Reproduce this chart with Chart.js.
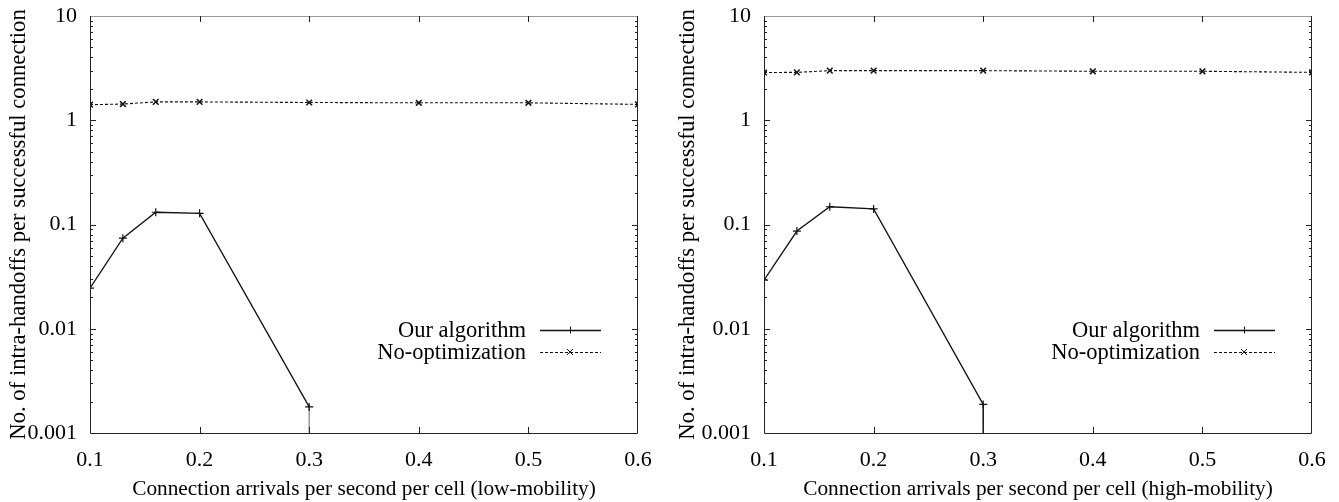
<!DOCTYPE html>
<html>
<head>
<meta charset="utf-8">
<script src="https://cdn.jsdelivr.net/npm/chart.js@4/dist/chart.umd.min.js"></script>
<style>
html,body{margin:0;padding:0;background:#fff;}
#wrap{position:relative;width:1339px;height:502px;overflow:hidden;}
canvas{position:absolute;top:0;}
</style>
</head>
<body>
<div id="wrap">
<canvas id="c1" width="669" height="502" style="left:0px"></canvas>
<canvas id="c2" width="670" height="502" style="left:669px"></canvas>
</div>
<script>
// ---- data ----
const xOur = [0.1, 0.13, 0.16, 0.2, 0.3];
const xNoOpt = [0.1, 0.13, 0.16, 0.2, 0.3, 0.4, 0.5, 0.6];
const ourLow = [0.0245, 0.074, 0.131, 0.128, 0.00178];
const noOptLow = [1.41, 1.43, 1.50, 1.50, 1.48, 1.47, 1.47, 1.42];
const ourHigh = [0.0293, 0.0865, 0.148, 0.141, 0.00188];
const noOptHigh = [2.87, 2.88, 2.99, 2.99, 2.99, 2.95, 2.95, 2.88];
const xTicks = [0.1, 0.2, 0.3, 0.4, 0.5, 0.6];
const yTicks = [0.001, 0.01, 0.1, 1, 10];
const yTickLabels = ['0.001', '0.01', '0.1', '1', '10'];
const seriesNames = ['Our algorithm', 'No-optimization'];
const yTitle = 'No. of intra-handoffs per successful connection';
const xTitleLow = 'Connection arrivals per second per cell (low-mobility)';
const xTitleHigh = 'Connection arrivals per second per cell (high-mobility)';

const FONT = "'Liberation Serif', 'DejaVu Serif', serif";

function pts(xs, ys) { return xs.map((x, i) => ({x: x, y: ys[i]})); }

const framePlugin = {
  id: 'gnuFrame',
  afterDatasetsDraw(chart) {
    const ctx = chart.ctx, a = chart.chartArea;
    const xs = chart.scales.x, ys = chart.scales.y;
    ctx.save();
    ctx.lineWidth = 1;
    // frame
    ctx.strokeStyle = '#999';
    ctx.beginPath(); ctx.moveTo(a.left, a.top + 0.5); ctx.lineTo(a.right, a.top + 0.5); ctx.stroke();
    ctx.strokeStyle = '#222';
    ctx.beginPath();
    ctx.moveTo(a.left + 0.5, a.top); ctx.lineTo(a.left + 0.5, a.bottom + 0.5);
    ctx.lineTo(a.right - 0.5, a.bottom + 0.5); ctx.lineTo(a.right - 0.5, a.top);
    ctx.stroke();
    // x major ticks (inward, bottom & top)
    ctx.beginPath();
    xTicks.forEach(v => {
      const px = Math.round(xs.getPixelForValue(v)) + 0.5;
      if (px <= a.left + 1 || px >= a.right - 1) return;
      ctx.moveTo(px, a.bottom); ctx.lineTo(px, a.bottom - 6);
      ctx.moveTo(px, a.top); ctx.lineTo(px, a.top + 6);
    });
    ctx.stroke();
    // y ticks: majors + minors
    ctx.beginPath();
    for (let d = 0; d < yTicks.length; d++) {
      const base = yTicks[d];
      const py = Math.round(ys.getPixelForValue(base)) + 0.5;
      if (d > 0 && d < yTicks.length - 1) {
        ctx.moveTo(a.left, py); ctx.lineTo(a.left + 6, py);
        ctx.moveTo(a.right, py); ctx.lineTo(a.right - 6, py);
      }
      if (d < yTicks.length - 1) {
        for (let m = 2; m <= 9; m++) {
          const q = Math.round(ys.getPixelForValue(base * m)) + 0.5;
          ctx.moveTo(a.left, q); ctx.lineTo(a.left + 3, q);
          ctx.moveTo(a.right, q); ctx.lineTo(a.right - 3, q);
        }
      }
    }
    ctx.stroke();
    // legend (gnuplot key style)
    ctx.font = '22.5px ' + FONT;
    ctx.fillStyle = '#000';
    ctx.textAlign = 'right';
    ctx.textBaseline = 'middle';
    chart.data.datasets.forEach((ds, i) => {
      if (!ds.label) return;
      const y = a.bottom - 103 + i * 22;
      ctx.fillText(ds.label, a.right - 112, y + 1);
      ctx.strokeStyle = ds.borderColor;
      ctx.lineWidth = ds.borderWidth;
      ctx.setLineDash(ds.borderDash || []);
      ctx.beginPath(); ctx.moveTo(a.right - 98, y + 0.5); ctx.lineTo(a.right - 37, y + 0.5); ctx.stroke();
      ctx.setLineDash([]);
      const cx = a.right - 68;
      const r = 3.5;
      ctx.lineWidth = 1;
      ctx.beginPath();
      if (ds.pointStyle === 'cross') {
        ctx.moveTo(cx + 0.5, y - r); ctx.lineTo(cx + 0.5, y + r);
      } else {
        ctx.moveTo(cx - 3, y - 3); ctx.lineTo(cx + 3, y + 3);
        ctx.moveTo(cx - 3, y + 3); ctx.lineTo(cx + 3, y - 3);
      }
      ctx.stroke();
    });
    ctx.restore();
  }
};

function makeChart(id, our, noOpt, xTitle, yAxisWidth, padRight, dropColor) {
  return new Chart(document.getElementById(id), {
    type: 'line',
    data: {
      datasets: [
        {
          label: seriesNames[0], data: pts(xOur, our),
          borderColor: '#111', borderWidth: 1.3, pointStyle: 'cross',
          pointRadius: 4, pointBorderWidth: 1.2, pointBorderColor: '#111', fill: false, tension: 0
        },
        {
          label: seriesNames[1], data: pts(xNoOpt, noOpt),
          borderColor: '#111', borderWidth: 1.1, borderDash: [3, 2], pointStyle: 'crossRot',
          pointRadius: 4, pointBorderWidth: 1.5, pointBorderColor: '#111', fill: false, tension: 0
        },
        {
          label: '', data: [{x: xOur[xOur.length - 1], y: our[our.length - 1]}, {x: xOur[xOur.length - 1], y: yTicks[0]}],
          borderColor: dropColor, borderWidth: 1.5, pointRadius: 0, fill: false
        }
      ]
    },
    options: {
      responsive: false,
      animation: false,
      devicePixelRatio: 1,
      layout: {padding: {top: 16, right: padRight, left: 0, bottom: 0}},
      plugins: {legend: {display: false}, tooltip: {enabled: false}},
      scales: {
        x: {
          type: 'linear', min: 0.1, max: 0.6,
          afterBuildTicks: s => { s.ticks = xTicks.map(v => ({value: v})); },
          afterFit: s => { s.height = 69; s.paddingLeft = 0; s.paddingRight = 0; },
          grid: {display: false, drawTicks: false},
          border: {display: false},
          ticks: {
            callback: v => v.toFixed(1), padding: 14, maxRotation: 0,
            color: '#000', font: {family: FONT, size: 22}
          },
          title: {display: true, text: xTitle, color: '#000', font: {family: FONT, size: 21.3}, padding: {top: 9, bottom: 0}}
        },
        y: {
          type: 'logarithmic', min: 0.001, max: 10,
          afterBuildTicks: s => { s.ticks = yTicks.map(v => ({value: v})); },
          afterFit: s => { s.width = yAxisWidth; s.paddingTop = 0; s.paddingBottom = 0; },
          grid: {display: false, drawTicks: false},
          border: {display: false},
          ticks: {
            callback: (v, i) => yTickLabels[yTicks.indexOf(v)] ?? '', padding: 13,
            color: '#000', font: {family: FONT, size: 22}
          },
          title: {display: true, text: yTitle, color: '#000', font: {family: FONT, size: 22.7}, padding: {top: 5, bottom: 0}}
        }
      }
    },
    plugins: [framePlugin]
  });
}

makeChart('c1', ourLow, noOptLow, xTitleLow, 90, 31, '#999');
makeChart('c2', ourHigh, noOptHigh, xTitleHigh, 95, 27, '#111');
</script>
</body>
</html>
